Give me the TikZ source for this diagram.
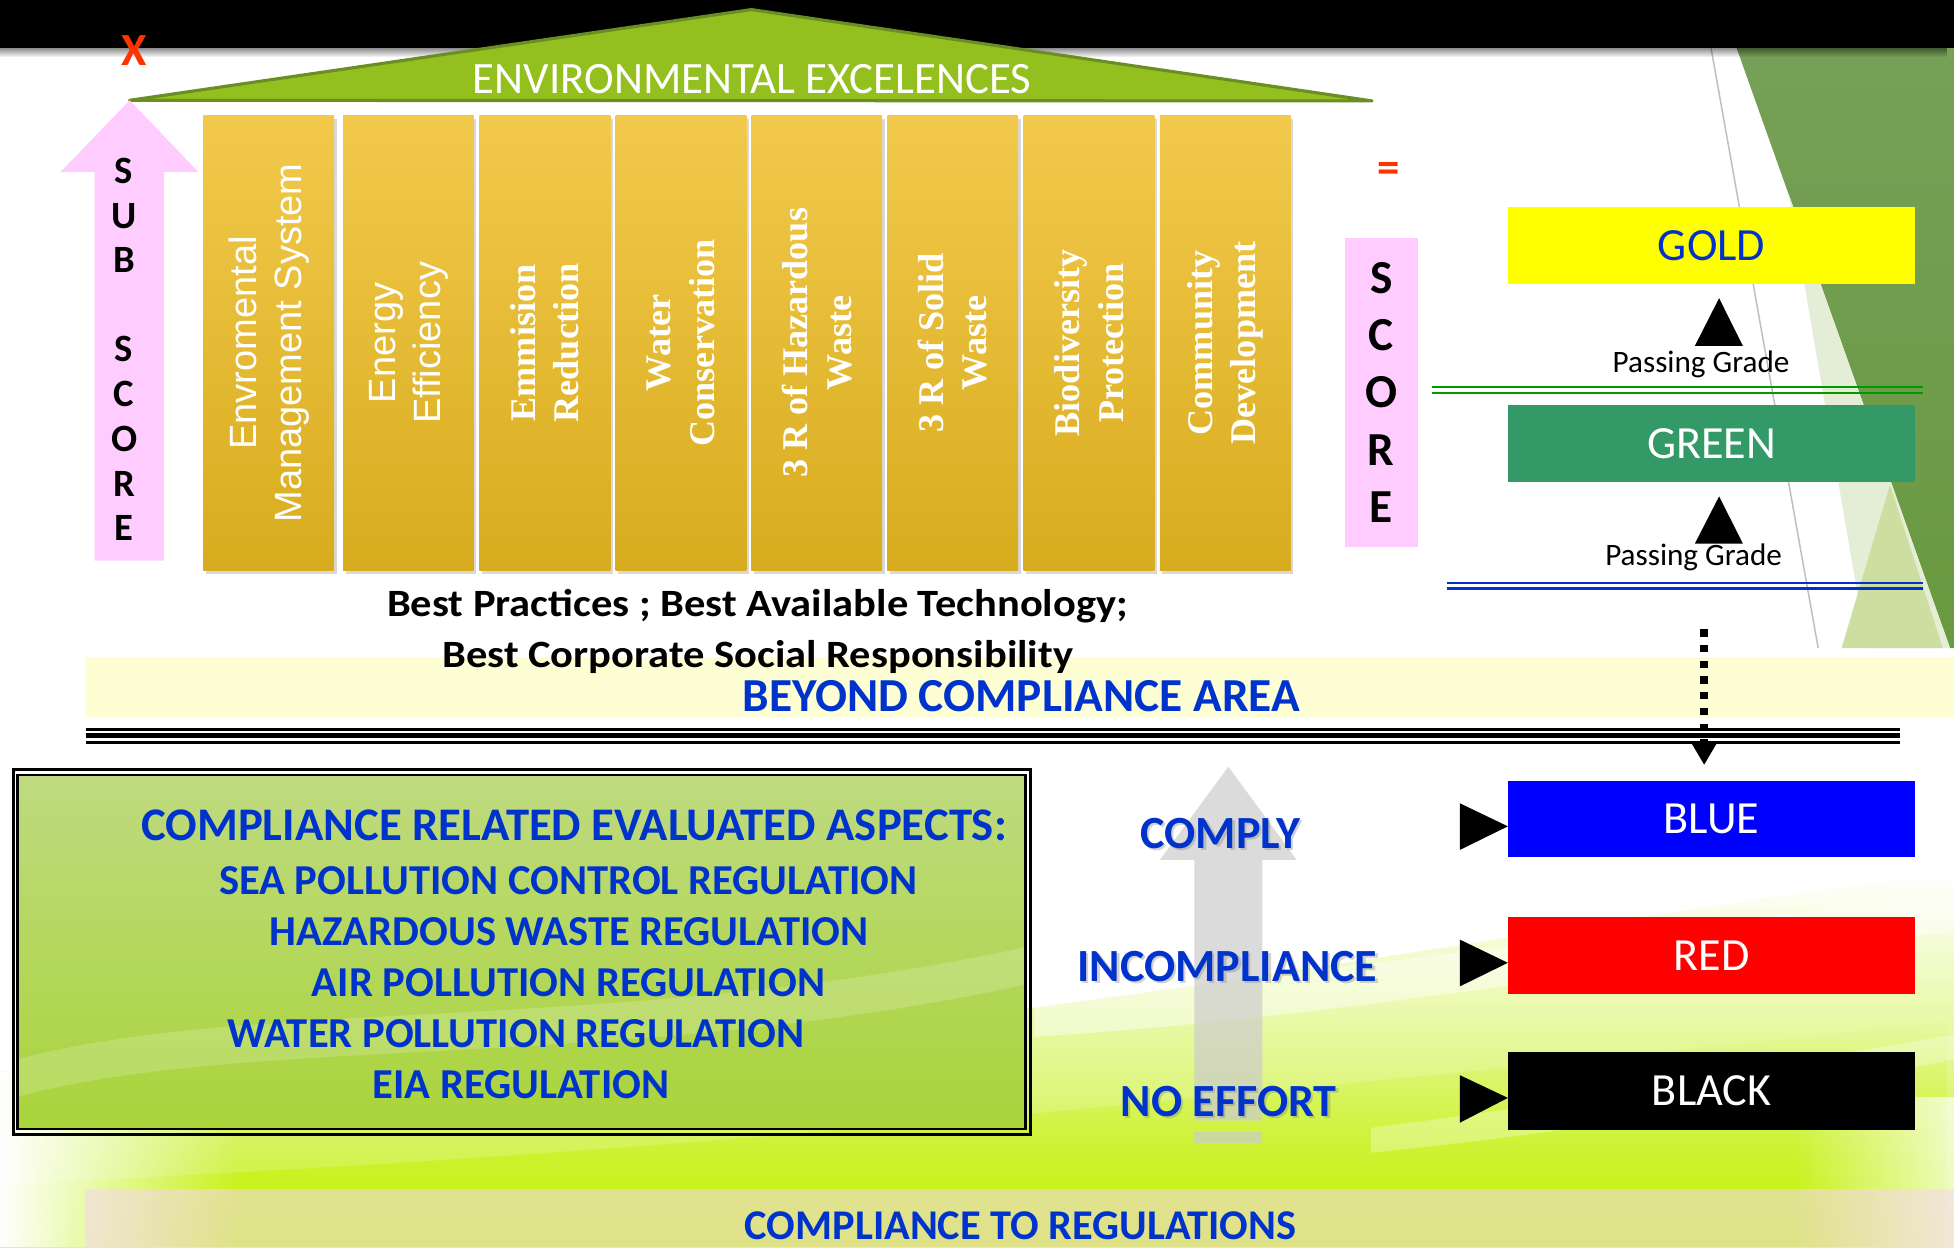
\documentclass[tikz,border=0pt]{standalone}
\usepackage{fontspec}
\usepackage{graphicx}
\setmainfont{Carlito}
\newfontfamily\arialf{Liberation Sans}
\newfontfamily\timesf{Liberation Serif}
\usetikzlibrary{arrows.meta,fadings,shadows}
\definecolor{tblue}{HTML}{0033CC}
\definecolor{roofg}{HTML}{93C01F}
\definecolor{roofe}{HTML}{6B8E23}
\definecolor{pilT}{HTML}{F2C94C}
\definecolor{pilB}{HTML}{D8AC1E}
\definecolor{pinkc}{HTML}{FFCCFF}
\definecolor{bandy}{HTML}{FEFED4}
\definecolor{xred}{HTML}{FF3300}
\definecolor{goldc}{HTML}{FFFF00}
\definecolor{greenc}{HTML}{339966}
\definecolor{bluec}{HTML}{0000FF}
\definecolor{redc}{HTML}{FF0000}
\definecolor{lineg}{HTML}{009900}
\definecolor{decoD}{HTML}{76A058}
\definecolor{decoD2}{HTML}{699940}
\definecolor{decoP}{HTML}{E4EED6}
\definecolor{decoL}{HTML}{CCDFA0}
\definecolor{limec}{HTML}{C6EF1E}
\definecolor{limev}{HTML}{C4F200}
\definecolor{limem}{HTML}{E6F7B0}
\definecolor{boxT}{HTML}{BFDA80}
\definecolor{boxB}{HTML}{A9D43A}
\definecolor{bandp}{HTML}{F7D6F2}
\newcommand{\fsz}[2]{\fontsize{#1}{#2}\selectfont}
\begin{document}
\begin{tikzpicture}[x=1pt,y=-1pt,
  txt/.style={inner sep=0pt, anchor=base},
  pillar/.style={minimum width=105pt, minimum height=364.8pt, inner sep=0pt,
    top color=pilT, bottom color=pilB, draw=none,
    drop shadow={opacity=0.3,shadow xshift=2pt,shadow yshift=-3pt}},
  coltxt/.style={rotate=90, align=center, text=white, inner sep=0pt},
  sansc/.style={coltxt, font=\arialf\fsz{30.5}{36}},
  serifc/.style={coltxt, font=\timesf\bfseries\fsz{29}{35}},
  rank/.style={minimum width=327pt, minimum height=61.3pt, inner sep=0pt, draw=none, font=\fsz{37}{40}},
  lvl/.style={txt, font=\bfseries\fsz{37}{40}, text=tblue},
  lvlsh/.style={txt, font=\bfseries\fsz{37}{40}, text=gray, opacity=0.35},
  reg/.style={txt, font=\bfseries\fsz{34.2}{38}, text=tblue},
  pass/.style={txt, font=\fsz{25}{28}},
  subl/.style={inner sep=0pt, font=\bfseries\fsz{31}{32}},
  scl/.style={inner sep=0pt, font=\bfseries\fsz{38}{40}},
]
\useasboundingbox (0,0) rectangle (1568,1001);
\fill[white] (0,0) rectangle (1568,1001);

% background swoosh
\path[top color=white, middle color=limem, bottom color=limec]
  (0,860) .. controls (600,875) and (1100,760) .. (1568,700) -- (1568,1001) -- (0,1001) -- cycle;
\fill[limev, opacity=0.75, path fading=north]
  (0,950) .. controls (500,930) and (1000,880) .. (1568,820) -- (1568,1001) -- (0,1001) -- cycle;
\fill[white, opacity=0.45] (830,800) .. controls (1100,780) and (1350,735) .. (1568,722) -- (1568,748) .. controls (1350,765) and (1100,815) .. (830,832) -- cycle;
\fill[white, opacity=0.3] (1100,905) .. controls (1300,880) and (1450,850) .. (1568,830) -- (1568,850) .. controls (1450,875) and (1300,905) .. (1100,925) -- cycle;
\fill[white, path fading=east] (0,860) rectangle (190,1001);
\fill[white, opacity=0.7, path fading=west] (1440,880) rectangle (1568,1001);

% right decoration
\path[top color=decoD, bottom color=decoD2] (1393.6,38.7) -- (1568,38.7) -- (1568,520) -- (1564.8,520) -- cycle;
\fill[decoP] (1435.6,156.5) -- (1498,520) -- (1564.8,520) -- cycle;
\fill[decoL] (1477.8,520) -- (1516.6,389) -- (1559,520) -- cycle;
\draw[gray!50, line width=1.2pt] (1373,38.5) -- (1459,520);

% top black band
\fill[black] (0,0) rectangle (1568,38.5);
\fill[black, opacity=0.45, path fading=south] (0,38.5) rectangle (1568,46);

% roof
\filldraw[fill=roofg, draw=roofe, line width=2.5pt, line join=round] (104,80.5) -- (603,7.7) -- (1101,81) -- cycle;
\node[txt, text=white, font=\fsz{36}{40}] (roof) at (603.5,75.3) {ENVIRONMENTAL EXCELENCES};
\node[txt, text=xred, font=\bfseries\fsz{37}{40}] (xmark) at (107.5,52.2) {X};

% pink sub score arrow
\fill[pinkc] (104,80.5) -- (159.4,138.2) -- (131.5,138.2) -- (131.5,449.9) -- (75.9,449.9) -- (75.9,138.2) -- (48.4,138.2) -- cycle;
\foreach \L/\yy [count=\i] in {S/137.3,U/173.5,B/208.8,S/280,C/316.4,O/352.5,R/388.5,E/423.8}
  \node[subl] (sub\i) at (99.6,\yy) {\L};

% pillars
\node[pillar] (p1) at (215.7,275.2) {};
\node[pillar] (p2) at (327.8,275.2) {};
\node[pillar] (p3) at (437.2,275.2) {};
\node[pillar] (p4) at (546.5,275.2) {};
\node[pillar] (p5) at (655.4,275.2) {};
\node[pillar] (p6) at (764.5,275.2) {};
\node[pillar] (p7) at (873.9,275.2) {};
\node[pillar] (p8) at (983.2,275.2) {};
\node[sansc] (t1) at (p1.center) {Envromental\\Management System};
\node[sansc] (t2) at (p2.center) {Energy\\Efficiency};
\node[serifc] (t3) at (p3.center) {Emmision\\Reduction};
\node[serifc] (t4) at (p4.center) {Water\\Conservation};
\node[serifc] (t5) at (p5.center) {3 R of Hazardous\\Waste};
\node[serifc] (t6) at (p6.center) {3 R of Solid\\Waste};
\node[serifc] (t7) at (p7.center) {Biodiversity\\Protection};
\node[serifc] (t8) at (p8.center) {Community\\Development};

% score column
\node[txt, anchor=center, text=xred, font=\bfseries\fsz{36}{40}] (eq) at (1114,138.6) {=};
\node[fill=pinkc, minimum width=58.5pt, minimum height=248.6pt, inner sep=0pt] (scorebox) at (1108.5,314.9) {};
\foreach \L/\yy [count=\i] in {S/222.8,C/268.7,O/314.5,R/361,E/406.6}
  \node[scl] (sc\i) at (1108.4,\yy) {\L};

% rank boxes (upper)
\node[rank, fill=goldc, text=tblue] (gold) at (1373.5,196.9) {GOLD};
\fill (1379.5,239.3) -- (1398.6,277.6) -- (1360,277.6) -- cycle;
\node[pass] (pg1) at (1365,299) {Passing Grade};
\draw[lineg, line width=1.7pt] (1148.8,310.6) -- (1543,310.6);
\draw[lineg, line width=1.7pt] (1148.8,315.3) -- (1543,315.3);
\node[rank, fill=greenc, text=white] (green) at (1373.5,355.9) {GREEN};
\fill (1379.5,398.3) -- (1398.6,436.3) -- (1360,436.3) -- cycle;
\node[pass] (pg2) at (1359,454) {Passing Grade};
\draw[tblue, line width=1.7pt] (1161,467.8) -- (1543,467.8);
\draw[tblue, line width=1.7pt] (1161,472.2) -- (1543,472.2);

% best practices text
\node[txt, font=\bfseries\fsz{31}{34}] (bp1) at (608,494.7) {\scalebox{1.1}[1]{Best Practices ; Best Available Technology;}};

% beyond compliance band
\fill[bandy] (69,527) rectangle (1568,575.6);
\node[txt, font=\bfseries\fsz{31}{34}] (bp2) at (608,535.6) {\scalebox{1.1}[1]{Best Corporate Social Responsibility}};
\node[txt, font=\bfseries\fsz{38}{40}, text=tblue] (beyond) at (819.5,571) {BEYOND COMPLIANCE AREA};

% triple line
\draw[line width=2.4pt] (69,585.4) -- (1525,585.4);
\draw[line width=3.5pt] (69,590.2) -- (1525,590.2);
\draw[line width=2.4pt] (69,595.6) -- (1525,595.6);

% dotted arrow
\coordinate (dtop) at (1367.5,505);
\coordinate (dbot) at (1367.5,613.9);
\draw[line width=5.9pt, dash pattern=on 5.9pt off 6.7pt, -{Triangle[width=18.8pt,length=17.4pt]}] (dtop) -- (dbot);

% compliance box
\path[top color=boxT, bottom color=boxB] (14,622) rectangle (823,906);
\fill[white, opacity=0.18] (14,850) .. controls (200,800) and (500,830) .. (823,760) -- (823,790) .. controls (500,860) and (200,830) .. (14,880) -- cycle;
\draw[line width=1.8pt] (14,622) rectangle (823,906);
\draw[line width=2.4pt] (10.5,617.5) rectangle (826.8,910.3);
\node[txt, font=\bfseries\fsz{37.5}{40}, text=tblue] (cra) at (460.7,674.5) {COMPLIANCE RELATED EVALUATED ASPECTS:};
\node[reg] (r1) at (456,717.5) {SEA POLLUTION CONTROL REGULATION};
\node[reg] (r2) at (456.8,758.4) {HAZARDOUS WASTE REGULATION};
\node[reg] (r3) at (456.2,799.8) {AIR POLLUTION REGULATION};
\node[reg] (r4) at (414.3,840.6) {WATER POLLUTION REGULATION};
\node[reg] (r5) at (418,881.7) {EIA REGULATION};

% grey arrow
\fill[gray!40, opacity=0.7] (985.7,615.2) -- (1040.5,690) -- (1013,690) -- (1013,899.3) -- (958.4,899.3) -- (958.4,690) -- (930.8,690) -- cycle;
\fill[gray!40, opacity=0.7] (958.4,908) rectangle (1013,917.4);

% levels
\node[lvlsh] (l1s) at (981.1,682.5) {COMPLY};
\node[lvl] (l1) at (979.3,680.7) {COMPLY};
\node[lvlsh] (l2s) at (986.8,789.5) {INCOMPLIANCE};
\node[lvl] (l2) at (985,787.7) {INCOMPLIANCE};
\node[lvlsh] (l3s) at (987.8,897.8) {NO EFFORT};
\node[lvl] (l3) at (986,896) {NO EFFORT};

% rank boxes (lower)
\node[rank, fill=bluec, text=white] (blue) at (1373.5,657.4) {BLUE};
\node[rank, fill=redc, text=white] (red) at (1373.5,766.6) {RED};
\node[rank, fill=black, text=white, minimum height=63pt] (black) at (1373.5,875.4) {BLACK};
\fill (1171.5,644.6) -- (1210,663.1) -- (1171.5,682) -- cycle;
\fill (1171.5,754) -- (1210,772.6) -- (1171.5,791.5) -- cycle;
\fill (1171.5,862.8) -- (1210,881) -- (1171.5,900.9) -- cycle;

% bottom band
\fill[bandp, opacity=0.55] (68,954) rectangle (1568,1001);
\node[txt, font=\bfseries\fsz{34}{38}, text=tblue] (ctr) at (819,995) {COMPLIANCE TO REGULATIONS};
\end{tikzpicture}
\end{document}
